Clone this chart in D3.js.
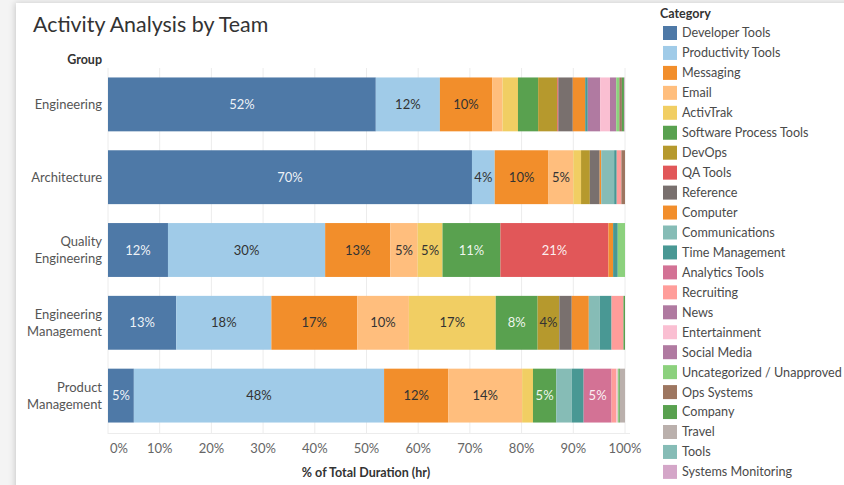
<!DOCTYPE html>
<html>
<head>
<meta charset="utf-8">
<script src="https://cdn.jsdelivr.net/npm/d3@7"></script>
<style>
  body { margin: 0; background: #f4f4f4; }
  svg { display: block; font-family: Lato, "Open Sans", sans-serif; }
</style>
</head>
<body>
<div class="chart"></div>
<script>
// Chart data
let groups = ["Engineering", "Architecture", "Quality Engineering", "Engineering Management", "Product Management"];

let categories = ["Developer Tools", "Productivity Tools", "Messaging", "Email", "ActivTrak",
    "Software Process Tools", "DevOps", "QA Tools", "Reference", "Computer", "Communications",
    "Time Management", "Analytics Tools", "Recruiting", "News", "Entertainment", "Social Media",
    "Uncategorized / Unapproved", "Ops Systems", "Company", "Travel", "Tools", "Systems Monitoring"];

let colors = ["#4e79a7", "#a0cbe8", "#f28e2b", "#ffbe7d", "#f1ce63", "#59a14f", "#b6992d", "#e15759",
    "#79706e", "#f28e2b", "#86bcb6", "#499894", "#d37295", "#ff9d9a", "#b07aa1", "#fabfd2", "#b07aa1",
    "#8cd17d", "#9d7660", "#59a14f", "#bab0ac", "#86bcb6", "#d4a6c8"];

// % of total duration, one value per category (same order as categories)
let engineering = [51.8, 12.4, 10.1, 2.0, 3.0, 3.9, 3.7, 0.2, 2.8, 2.4, 0, 0.5, 0, 0, 2.4, 1.9, 1.2, 0.6, 0.5, 0.4, 0.1, 0, 0.1];
let architecture = [70.4, 4.4, 10.4, 4.8, 1.5, 0, 1.7, 0, 1.9, 0.3, 2.5, 0.5, 0, 0.9, 0, 0, 0, 0, 0.7, 0, 0, 0, 0];
let qualityEngineering = [11.6, 30.4, 12.6, 5.3, 4.8, 11.2, 0, 20.9, 0, 0.9, 0, 0.9, 0, 0, 0, 0, 0, 1.4, 0, 0, 0, 0, 0];
let engineeringManagement = [13.2, 18.4, 16.6, 10.0, 16.8, 8.1, 4.2, 0, 2.4, 3.3, 2.1, 2.3, 0, 2.3, 0, 0, 0, 0, 0, 0.3, 0, 0, 0];
let productManagement = [5.0, 48.4, 12.4, 14.3, 2.1, 4.5, 0, 0, 0, 0, 3.0, 2.3, 5.4, 0.9, 0, 0.3, 0, 0.2, 0, 0.2, 1.0, 0, 0];

let xTicks = [0, 10, 20, 30, 40, 50, 60, 70, 80, 90, 100];

let groupValues = [engineering, architecture, qualityEngineering, engineeringManagement, productManagement];

// Table for d3.stack
let table = groups.map((g, i) => {
    let row = { group: g };
    categories.forEach((c, j) => { row[c] = groupValues[i][j]; });
    return row;
});

let svgWidth = 844;
let svgHeight = 485;

let svg = d3.select(".chart")
    .append("svg")
    .attr("width", svgWidth)
    .attr("height", svgHeight);

// Card with a soft shadow on the left/top
let defs = svg.append("defs");
let filter = defs.append("filter").attr("id", "shadow")
    .attr("x", "-5%").attr("y", "-5%").attr("width", "110%").attr("height", "110%");
filter.append("feDropShadow")
    .attr("dx", -1).attr("dy", 0)
    .attr("stdDeviation", 3)
    .attr("flood-color", "#000")
    .attr("flood-opacity", 0.18);

svg.append("rect")
    .attr("x", 16).attr("y", 3)
    .attr("width", 900).attr("height", 600)
    .attr("fill", "#fff")
    .attr("filter", "url(#shadow)");

// Title
svg.append("text")
    .attr("x", 33).attr("y", 32)
    .attr("font-size", 21.4)
    .attr("fill", "#333")
    .text("Activity Analysis by Team");

// Scales
let x = d3.scaleLinear().domain([0, 100]).range([108, 625]);
let y = d3.scaleBand().domain(groups).range([68, 432]).paddingInner(0.26).paddingOuter(0.13);

// Gridlines
svg.append("g")
    .selectAll("line")
    .data(xTicks)
    .enter()
    .append("line")
    .attr("x1", d => x(d)).attr("x2", d => x(d))
    .attr("y1", 68).attr("y2", 434)
    .attr("stroke", "#ececec")
    .attr("stroke-width", 1);

svg.append("line")
    .attr("x1", 108).attr("x2", 630)
    .attr("y1", 433.5).attr("y2", 433.5)
    .attr("stroke", "#ececec");

// Stacked bars
let stack = d3.stack().keys(categories);
let series = stack(table);

let layers = svg.append("g")
    .selectAll("g")
    .data(series)
    .enter()
    .append("g")
    .attr("fill", (d, i) => colors[i]);

layers.selectAll("rect")
    .data(d => d.map(s => ({ s: s, key: d.key })))
    .enter()
    .append("rect")
    .attr("x", d => x(d.s[0]))
    .attr("y", d => y(d.s.data.group))
    .attr("width", d => Math.max(0, x(d.s[1]) - x(d.s[0])))
    .attr("height", y.bandwidth());

// Segment labels
let darkColors = ["#4e79a7", "#59a14f", "#e15759", "#d37295"];
layers.selectAll("text")
    .data((d, i) => d.map(s => ({ s: s, color: colors[i] })).filter(o => o.s[1] - o.s[0] >= 4))
    .enter()
    .append("text")
    .attr("x", d => (x(d.s[0]) + x(d.s[1])) / 2)
    .attr("y", d => y(d.s.data.group) + y.bandwidth() / 2)
    .attr("dy", "0.35em")
    .attr("text-anchor", "middle")
    .attr("font-size", 13)
    .attr("fill", d => darkColors.includes(d.color) ? "#fff" : "#333")
    .attr("fill-opacity", d => darkColors.includes(d.color) ? 0.92 : 1)
    .text(d => Math.round(d.s[1] - d.s[0]) + "%");

// Row labels
svg.append("text")
    .attr("x", 102).attr("y", 64)
    .attr("text-anchor", "end")
    .attr("font-size", 12.5)
    .attr("font-weight", "bold")
    .attr("fill", "#333")
    .text("Group");

let rowLabels = svg.append("g")
    .selectAll("text")
    .data(groups)
    .enter()
    .append("text")
    .attr("x", 102)
    .attr("y", d => y(d) + y.bandwidth() / 2)
    .attr("text-anchor", "end")
    .attr("font-size", 13)
    .attr("fill", "#555");

rowLabels.each(function(d) {
    let words = d.split(" ");
    let t = d3.select(this);
    if (words.length === 1) {
        t.append("tspan").attr("x", 102).attr("dy", "0.35em").text(d);
    } else {
        t.append("tspan").attr("x", 102).attr("dy", "-0.3em").text(words[0]);
        t.append("tspan").attr("x", 102).attr("dy", "1.3em").text(words.slice(1).join(" "));
    }
});

// X axis tick labels
svg.append("g")
    .selectAll("text")
    .data(xTicks)
    .enter()
    .append("text")
    .attr("x", d => d === 0 ? x(d) + 2 : x(d))
    .attr("y", 453)
    .attr("text-anchor", d => d === 0 ? "start" : "middle")
    .attr("font-size", 13)
    .attr("fill", "#666")
    .text(d => d + "%");

svg.append("text")
    .attr("x", 366).attr("y", 477)
    .attr("text-anchor", "middle")
    .attr("font-size", 12.5)
    .attr("font-weight", "bold")
    .attr("fill", "#333")
    .text("% of Total Duration (hr)");

// Legend
svg.append("text")
    .attr("x", 660).attr("y", 18)
    .attr("font-size", 12.5)
    .attr("font-weight", "bold")
    .attr("fill", "#333")
    .text("Category");

let legend = svg.append("g")
    .selectAll("g")
    .data(categories)
    .enter()
    .append("g")
    .attr("transform", (d, i) => `translate(663, ${26 + i * 19.95})`);

legend.append("rect")
    .attr("width", 14).attr("height", 14)
    .attr("fill", (d, i) => colors[i]);

legend.append("text")
    .attr("x", 19).attr("y", 7)
    .attr("dy", "0.35em")
    .attr("font-size", 12.6)
    .attr("fill", "#4a4a4a")
    .text(d => d);
</script>
</body>
</html>
